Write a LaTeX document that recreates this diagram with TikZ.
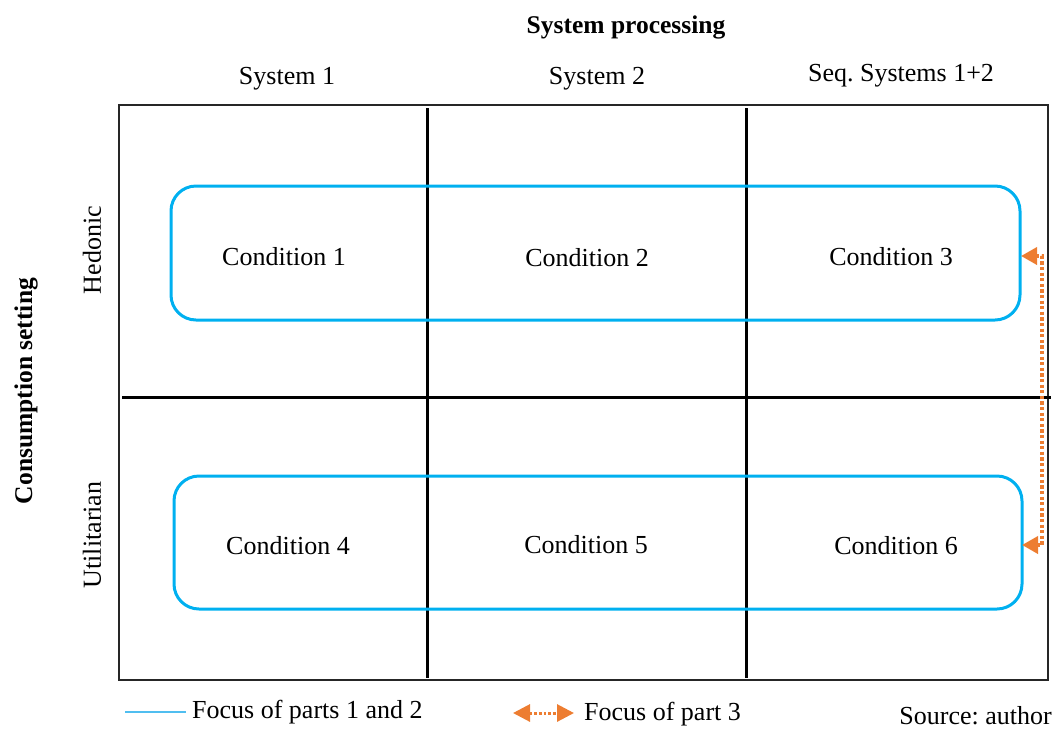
\documentclass[tikz,border=0pt]{standalone}
\usepackage{fontspec}
\setmainfont{Liberation Serif}
\frenchspacing
\usetikzlibrary{arrows.meta}
\definecolor{focusblue}{RGB}{0,176,240}
\definecolor{legendblue}{RGB}{80,190,240}
\definecolor{focusorange}{RGB}{237,125,49}
\tikzset{
  lbl/.style={font=\fontsize{26}{30}\selectfont, inner sep=0pt},
  head/.style={font=\fontsize{25.5}{30}\selectfont\bfseries, inner sep=0pt},
  focusbox/.style={draw=focusblue, line width=3pt, rounded corners=25pt,
    inner sep=0pt},
  divider/.style={line width=3pt, black},
  orangelink/.style={draw=focusorange, line width=3.6pt,
    dash pattern=on 3.2pt off 2.4pt,
    {Triangle[length=16pt,width=17pt,fill=focusorange]}-{Triangle[length=16pt,width=17pt,fill=focusorange]}},
}
\begin{document}
\begin{tikzpicture}[x=1pt,y=-1pt]
\useasboundingbox (0,0) rectangle (1059,729);

% outer frame and grid
\draw[line width=1.8pt, black!85] (119,105) rectangle (1048,680);
\draw[divider] (427,108) -- (427,678);
\draw[divider] (746,108) -- (746,678);
\draw[divider] (122,397) -- (1051,397);

% axis headings
\node[head] (sp) at (626,27) {System processing};
\node[lbl] (s1) at (287,79) {System 1};
\node[lbl] (s2) at (597,79) {System 2};
\node[lbl] (s3) at (901,76) {Seq. Systems 1+2};
\node[head, rotate=90] (cs) at (26,391) {Consumption setting};
\node[lbl, rotate=90] (hed) at (92,250) {Hedonic};
\node[lbl, rotate=90] (util) at (92,535) {Utilitarian};

% focus boxes for parts 1 and 2
\node[focusbox, minimum width=849pt, minimum height=134pt] (boxH) at (595.5,253) {};
\node[focusbox, minimum width=848pt, minimum height=133pt] (boxU) at (598,542.5) {};

% conditions
\node[lbl] (c1) at (284,257) {Condition 1};
\node[lbl] (c2) at (587,258) {Condition 2};
\node[lbl] (c3) at (891,257) {Condition 3};
\node[lbl] (c4) at (288,546) {Condition 4};
\node[lbl] (c5) at (586,545) {Condition 5};
\node[lbl] (c6) at (896,546) {Condition 6};

% focus of part 3: link between the two sequential conditions
\coordinate (a3) at (1021,256);
\coordinate (a6) at (1022,545);
\draw[orangelink] (a3) -- ++(21,0) |- (a6);

% legend
\coordinate (lb1) at (125,712);
\coordinate (lb2) at (186,712);
\draw[legendblue, line width=2pt] (lb1) -- (lb2);
\node[lbl, anchor=west] (lt1) at (192,712) {Focus of parts 1 and 2};
\coordinate (lo1) at (513,713);
\coordinate (lo2) at (574,713);
\draw[draw=focusorange, line width=3pt, dash pattern=on 2.8pt off 2pt,
  {Triangle[length=17pt,width=17pt,fill=focusorange]}-{Triangle[length=17pt,width=17pt,fill=focusorange]}] (lo1) -- (lo2);
\node[lbl, anchor=west] (lt2) at (584,714) {Focus of part 3};
\node[lbl, anchor=east] (src) at (1052,716) {Source: author};
\end{tikzpicture}
\end{document}
